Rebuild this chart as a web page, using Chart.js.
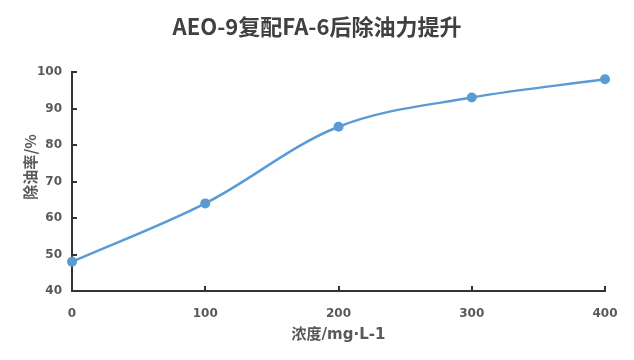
<!DOCTYPE html>
<html>
<head>
<meta charset="utf-8">
<script src="https://cdn.jsdelivr.net/npm/chart.js@4"></script>
<style>
html,body{margin:0;padding:0;background:#fff;}
#wrap{width:634px;height:360px;position:relative;}
</style>
</head>
<body>
<div id="wrap"><canvas id="c" width="634" height="360"></canvas></div>
<script>
const concentrations = [0, 100, 200, 300, 400];
const removalRates = [48, 64, 85, 93, 98];
const xTicks = [0, 100, 200, 300, 400];
const yTicks = [40, 50, 60, 70, 80, 90, 100];
const titleText = 'AEO-9复配FA-6后除油力提升';
const xTitle = '浓度/mg·L-1';
const yTitle = '除油率/%';

const axisColor = '#333333';
const labelColor = '#595959';

const innerTicks = {
  id: 'innerTicks',
  afterDraw(chart) {
    const ctx = chart.ctx, xs = chart.scales.x, ys = chart.scales.y;
    const a = chart.chartArea;
    ctx.save();
    ctx.strokeStyle = axisColor;
    ctx.lineWidth = 2;
    ctx.beginPath();
    xTicks.forEach(v => { if (v === xTicks[0]) return; const p = Math.round(xs.getPixelForValue(v)); ctx.moveTo(p, a.bottom); ctx.lineTo(p, a.bottom - 5); });
    yTicks.forEach(v => { if (v === yTicks[0]) return; const p = Math.round(ys.getPixelForValue(v)); ctx.moveTo(a.left, p); ctx.lineTo(a.left + 5, p); });
    ctx.stroke();
    // y axis title
    ctx.fillStyle = labelColor;
    ctx.font = 'bold 15px "Noto Sans CJK SC", sans-serif';
    ctx.textAlign = 'center';
    ctx.textBaseline = 'middle';
    ctx.translate(30, 167);
    ctx.rotate(-Math.PI / 2);
    ctx.fillText(yTitle, 0, 0);
    ctx.restore();
  }
};

new Chart(document.getElementById('c'), {
  type: 'line',
  data: {
    datasets: [{
      data: concentrations.map((x, i) => ({x, y: removalRates[i]})),
      borderColor: '#5B9BD5',
      backgroundColor: '#5B9BD5',
      borderWidth: 2.5,
      pointRadius: 5,
      pointHoverRadius: 5,
      pointBorderWidth: 0,
      tension: 0.35,
      clip: false,
      fill: false
    }]
  },
  options: {
    responsive: false,
    animation: false,
    events: [],
    layout: { padding: { left: 0, right: 0, top: 0, bottom: 0 } },
    plugins: {
      legend: { display: false },
      tooltip: { enabled: false },
      title: {
        display: true,
        text: titleText,
        color: '#404040',
        font: { family: '"Noto Sans CJK SC", sans-serif', size: 22, weight: 'bold', lineHeight: 1.2 },
        padding: { top: 13, bottom: 32.6 }
      }
    },
    scales: {
      x: {
        type: 'linear',
        min: 0, max: 400,
        afterFit(s) { s.height = 69; },
        afterBuildTicks(s) { s.ticks = xTicks.map(v => ({value: v})); },
        grid: { display: false, drawTicks: false },
        border: { display: true, color: axisColor, width: 2 },
        ticks: { color: labelColor, padding: 16, font: { family: '"DejaVu Sans", sans-serif', size: 12, weight: 'bold' } },
        title: { display: true, text: xTitle, color: labelColor, font: { family: '"DejaVu Sans", "Noto Sans CJK SC", sans-serif', size: 15, weight: 'bold' }, padding: { top: 0, bottom: 16 } }
      },
      y: {
        type: 'linear',
        min: 40, max: 100,
        afterFit(s) { s.width = 72; },
        afterBuildTicks(s) { s.ticks = yTicks.map(v => ({value: v})); },
        grid: { display: false, drawTicks: false },
        border: { display: true, color: axisColor, width: 2 },
        ticks: { color: labelColor, padding: 10, font: { family: '"DejaVu Sans", sans-serif', size: 12, weight: 'bold' } },
        title: { display: false }
      },
      yRightSpace: {
        type: 'linear',
        position: 'right',
        display: true,
        afterFit(s) { s.width = 29; },
        grid: { display: false, drawTicks: false },
        border: { display: false },
        ticks: { display: false },
        title: { display: false }
      }
    }
  },
  plugins: [innerTicks]
});
</script>
</body>
</html>
